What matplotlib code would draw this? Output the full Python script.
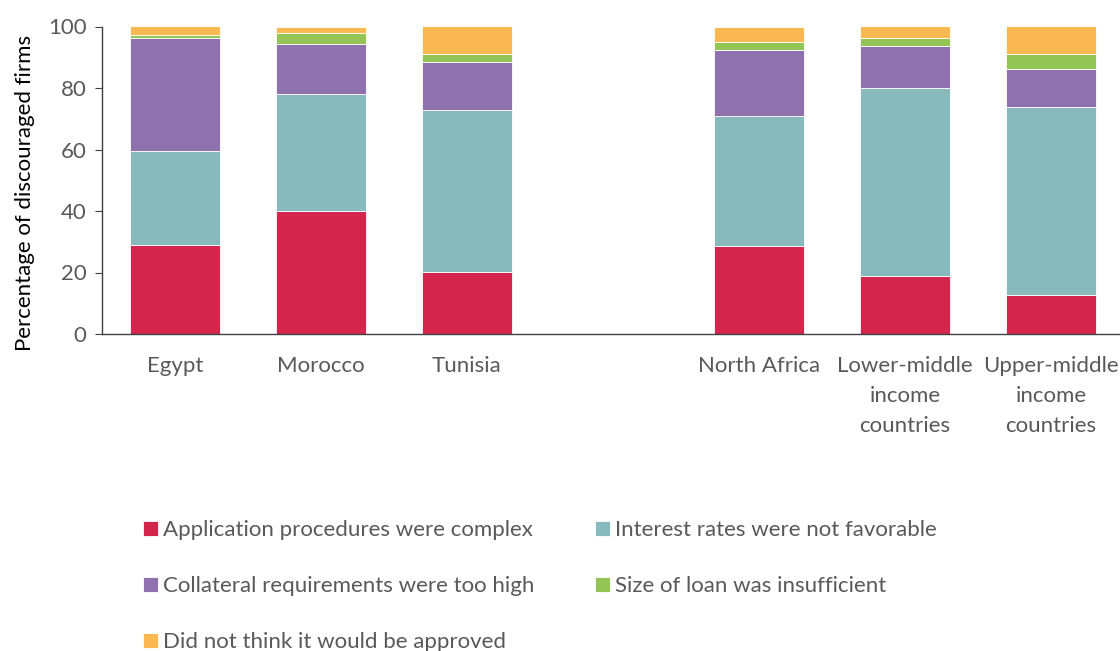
import matplotlib
matplotlib.use("Agg")
import matplotlib.pyplot as plt
import numpy as np

plt.rcParams['font.family'] = ['Lato', 'DejaVu Sans']

positions = [0, 1, 2, 4, 5, 6]
labels_shown = ["Egypt", "Morocco", "Tunisia", "North Africa",
                "Lower-middle\nincome\ncountries", "Upper-middle\nincome\ncountries"]

series_names = ["Application procedures were complex",
                "Interest rates were not favorable",
                "Collateral requirements were too high",
                "Size of loan was insufficient",
                "Did not think it would be approved"]
application = [28.8, 39.9, 20.1, 28.7, 18.8, 12.7]
interest = [30.8, 38.3, 52.6, 42.1, 61.1, 61.0]
collateral = [36.6, 16.0, 15.7, 21.5, 13.9, 12.4]
size_loan = [1.0, 3.7, 2.7, 2.5, 2.4, 4.9]
not_approved = [2.8, 2.1, 8.9, 5.2, 3.8, 9.0]

colors = ["#D4254C", "#88B9BC", "#8F71AE", "#94C356", "#F9B851"]

fig = plt.figure(figsize=(11.2, 6.51), dpi=100)
ax = fig.add_axes([102/1120, (651-334)/651, 1022/1120, 307.5/651])

text_color = "#595959"
fs = 16
bottom = np.zeros(len(positions))
handles = []
for vals, name, col in zip([application, interest, collateral, size_loan, not_approved],
                           series_names, colors):
    b = ax.bar(positions, vals, bottom=bottom, width=0.616, color=col,
               edgecolor="white", linewidth=0.6, label=name)
    handles.append(b)
    bottom += np.array(vals)

ax.set_xlim(-0.5, 6.5)
ax.set_ylim(0, 100)
ax.set_yticks([0, 20, 40, 60, 80, 100])
ax.set_xticks(positions)
ax.set_xticklabels(labels_shown, fontsize=fs, color=text_color, linespacing=1.62)
ax.tick_params(axis='x', length=0, pad=16)
ax.tick_params(axis='y', labelsize=fs, labelcolor=text_color, length=5, color="#404040", pad=6)
for s in ["top", "right"]:
    ax.spines[s].set_visible(False)
for s in ["left", "bottom"]:
    ax.spines[s].set_color("#404040")
    ax.spines[s].set_linewidth(1.0)
ax.set_ylabel("Percentage of discouraged firms", fontsize=fs, color="#000000")
ax.yaxis.set_label_coords(-0.066, 0.4585)

order = [0, 2, 4, 1, 3]
leg = fig.legend([handles[i] for i in order], [series_names[i] for i in order],
                 ncol=2, loc="upper left", bbox_to_anchor=(143/1120, 1 - 520/651),
                 frameon=False, fontsize=fs, handlelength=0.68, handleheight=0.68,
                 handletextpad=0.23, labelspacing=1.62, columnspacing=2.7,
                 borderaxespad=0, borderpad=0)
for t in leg.get_texts():
    t.set_color(text_color)

fig.savefig("out.png", dpi=100)
